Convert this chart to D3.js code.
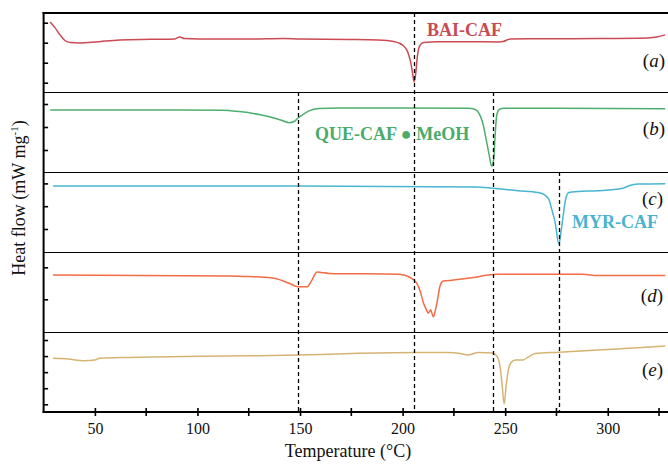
<!DOCTYPE html>
<html>
<head>
<meta charset="utf-8">
<script src="https://cdn.jsdelivr.net/npm/d3@7"></script>
<style>
  body { margin: 0; background: #fff; }
  svg { display: block; font-family: "Liberation Serif", "Times New Roman", serif; }
</style>
</head>
<body>
<div id="chart"></div>
<script>
const width = 668;
const height = 467;

// temperatures (°C) and heat flow readings for each trace
const tempA = [28.2, 30.6, 33, 35.4, 38, 42.7, 50, 62, 77, 89, 91.3, 93.7, 101, 125, 142, 150, 174, 188, 195.6, 198, 200.5, 202, 203, 204, 205, 205.6, 206.3, 207.3, 208.3, 210.2, 217.5, 232, 246.6, 249, 252.4, 261, 276, 295, 315, 324, 328];
const flowA = [3.03, 2.74, 2.39, 2.11, 2.01, 1.99, 2.03, 2.14, 2.17, 2.19, 2.29, 2.21, 2.19, 2.18, 2.21, 2.18, 2.16, 2.13, 2.06, 1.99, 1.84, 1.64, 1.39, 0.99, 0.39, 0.04, 0.39, 1.39, 1.84, 2.01, 2.05, 2.05, 2.04, 2.06, 2.19, 2.2, 2.2, 2.21, 2.22, 2.29, 2.39];

const tempB = [28.2, 76.7, 112.1, 120.4, 130.1, 139.8, 144.7, 147.1, 149, 151.9, 154.4, 159.2, 168.9, 198, 232, 235.4, 237.4, 239.3, 240.8, 242.2, 243.4, 244.4, 245.1, 245.9, 247.1, 249.5, 275.7, 328];
const flowB = [1.74, 1.74, 1.73, 1.67, 1.54, 1.33, 1.19, 1.24, 1.39, 1.57, 1.7, 1.8, 1.83, 1.83, 1.81, 1.76, 1.57, 1.09, 0.43, -0.22, -0.7, -0.43, 0.65, 1.52, 1.76, 1.81, 1.81, 1.79];

const tempC = [29.6, 149.5, 235.4, 243.7, 256.3, 266, 269.4, 271.4, 272.8, 274.3, 276.2, 277.2, 278.2, 279.6, 281.1, 285.4, 295.1, 307.3, 310.7, 314.6, 328];
const flowC = [1.89, 1.89, 1.84, 1.79, 1.68, 1.6, 1.49, 1.27, 0.83, 0.31, -0.66, -0.13, 0.54, 1.36, 1.6, 1.64, 1.68, 1.79, 1.91, 1.97, 1.99];

const tempD = [29.6, 115.5, 125.2, 137.4, 144.7, 149, 153.4, 155.8, 158.3, 160.2, 164.1, 198.1, 203.4, 206.8, 208.7, 210.2, 211.2, 212.6, 213.6, 215, 216, 217, 218.4, 219.9, 224.8, 234.5, 241.7, 246.6, 287.9, 295.1, 328];
const flowD = [0.76, 0.73, 0.71, 0.66, 0.5, 0.39, 0.39, 0.6, 0.85, 0.84, 0.81, 0.78, 0.69, 0.51, 0.23, -0.12, -0.27, -0.43, -0.33, -0.55, -0.33, -0.02, 0.45, 0.57, 0.6, 0.68, 0.76, 0.78, 0.78, 0.74, 0.74];

const tempE = [29.6, 35.4, 45.1, 50, 52.4, 67, 86.4, 125.2, 149.5, 178.6, 207.8, 222.3, 227.2, 232, 236.9, 243.7, 246.1, 247.6, 248.5, 249.5, 250.5, 251.5, 252.9, 254.9, 258.7, 261.2, 264.6, 276.2, 295.1, 314.6, 328];
const flowE = [2.86, 2.84, 2.71, 2.76, 2.87, 2.92, 2.96, 3.02, 3.07, 3.17, 3.22, 3.22, 3.18, 3.07, 3.22, 3.19, 2.97, 2.26, 1.2, 0.02, 1.2, 2.13, 2.6, 2.76, 2.76, 2.94, 3.16, 3.24, 3.38, 3.52, 3.63];

const panelLetters = ['a', 'b', 'c', 'd', 'e'];
const sampleNames = ['BAI-CAF', 'QUE-CAF \u25CF MeOH', 'MYR-CAF'];
const peakTemps = [149, 205.6, 244.2, 276.2]; // dashed reference lines
const xTicks = [50, 100, 150, 200, 250, 300];
const xMinorTicks = [75, 125, 175, 225, 275, 325];

const svg = d3.select('#chart')
    .append('svg')
    .attr('width', width)
    .attr('height', height);

const plotLeft = 43.6, plotRight = 669.3;
const plotTop = 13, plotBottom = 412;
const x = d3.scaleLinear().domain([25, 330]).range([plotLeft, plotRight]);

// five stacked panels, each with its own heat flow scale
const panels = [
    { t: tempA, f: flowA, y0: 13, y1: 92, dom: [-0.465, 3.485], ticks: [0, 1, 2, 3], color: '#cb4a53', lx: 665, ly: 67 },
    { t: tempB, f: flowB, y0: 92, y1: 172, dom: [-0.957, 2.522], ticks: [0, 1, 2], color: '#4daf6d', lx: 665, ly: 135 },
    { t: tempC, f: flowC, y0: 172, y1: 252, dom: [-1.009, 2.5], ticks: [0, 1, 2], color: '#4ab5d2', lx: 663, ly: 205 },
    { t: tempD, f: flowD, y0: 252, y1: 332, dom: [-1.022, 1.478], ticks: [0, 1], color: '#f36c45', lx: 663, ly: 302 },
    { t: tempE, f: flowE, y0: 332, y1: 412, dom: [-0.479, 4.499], ticks: [0, 1, 2, 3, 4], color: '#d5b473', lx: 663, ly: 376 }
];

panels.forEach((p, i) => {
    const y = d3.scaleLinear().domain(p.dom).range([p.y1, p.y0]);

    // left ticks pointing inward
    svg.append('g')
        .attr('transform', `translate(${plotLeft},0)`)
        .call(d3.axisRight(y).tickValues(p.ticks).tickSize(4.5).tickFormat(''))
        .call(g => g.select('.domain').remove())
        .call(g => g.selectAll('line').attr('stroke', '#000').attr('stroke-width', 1.6));

    const line = d3.line()
        .x(d => x(d[0]))
        .y(d => y(d[1]))
        .curve(d3.curveMonotoneX);

    svg.append('path')
        .datum(d3.zip(p.t, p.f))
        .attr('d', line)
        .attr('fill', 'none')
        .attr('stroke', p.color)
        .attr('stroke-width', 1.5);

    // panel separator
    if (i > 0) {
        svg.append('line')
            .attr('x1', plotLeft).attr('x2', plotRight)
            .attr('y1', p.y0 + 0.5).attr('y2', p.y0 + 0.5)
            .attr('stroke', '#000')
            .attr('stroke-width', 1.3)
            .attr('shape-rendering', 'crispEdges');
    }

    const lbl = svg.append('text')
        .attr('x', p.lx)
        .attr('y', p.ly)
        .attr('text-anchor', 'end')
        .attr('font-size', 19)
        .attr('fill', '#111');
    lbl.append('tspan').text('(');
    lbl.append('tspan').attr('font-style', 'italic').text(panelLetters[i]);
    lbl.append('tspan').text(')');
});

// dashed lines through the peaks
const dashTop = [92, 13, 92, 172];
peakTemps.forEach((t, i) => {
    svg.append('line')
        .attr('x1', Math.round(x(t)) + 0.5).attr('x2', Math.round(x(t)) + 0.5)
        .attr('y1', dashTop[i]).attr('y2', plotBottom)
        .attr('stroke', '#000')
        .attr('stroke-width', 1.3)
        .attr('stroke-dasharray', '4,3');
});

// frame: thick top, left and bottom
svg.append('line')
    .attr('x1', plotLeft - 1).attr('x2', plotRight)
    .attr('y1', plotTop).attr('y2', plotTop)
    .attr('stroke', '#000').attr('stroke-width', 2);
svg.append('line')
    .attr('x1', plotLeft).attr('x2', plotLeft)
    .attr('y1', plotTop - 1).attr('y2', plotBottom + 1)
    .attr('stroke', '#000').attr('stroke-width', 2);

const xAxis = svg.append('g')
    .attr('transform', `translate(0,${plotBottom})`)
    .call(d3.axisBottom(x).tickValues(xTicks).tickSize(4).tickPadding(7).tickFormat(d3.format('d')));
xAxis.select('.domain').remove();
xAxis.selectAll('.tick line').attr('y1', -4).attr('stroke-width', 1.6);
xAxis.selectAll('text')
    .attr('font-size', 16)
    .attr('fill', '#111')
    .attr('font-family', '"Liberation Serif", serif');

svg.append('g')
    .attr('transform', `translate(0,${plotBottom})`)
    .selectAll('line')
    .data(xMinorTicks)
    .join('line')
    .attr('x1', d => x(d)).attr('x2', d => x(d))
    .attr('y1', -4).attr('y2', 4)
    .attr('stroke', '#000')
    .attr('stroke-width', 1.6);

svg.append('line')
    .attr('x1', plotLeft - 1).attr('x2', plotRight)
    .attr('y1', plotBottom).attr('y2', plotBottom)
    .attr('stroke', '#000').attr('stroke-width', 2);

// sample names
const names = [
    { x: 427, y: 36, color: '#c94a52' },
    { x: 315, y: 140, color: '#4aab6a' },
    { x: 572, y: 228, color: '#4ab3d0' }
];
names.forEach((n, i) => {
    svg.append('text')
        .attr('x', n.x)
        .attr('y', n.y)
        .attr('font-size', 18)
        .attr('font-weight', 'bold')
        .attr('fill', n.color)
        .text(sampleNames[i]);
});

// axis titles
svg.append('text')
    .attr('x', 348)
    .attr('y', 457)
    .attr('text-anchor', 'middle')
    .attr('font-size', 18)
    .attr('fill', '#111')
    .text('Temperature (\u00b0C)');

const yTitle = svg.append('text')
    .attr('transform', 'translate(25,198) rotate(-90)')
    .attr('text-anchor', 'middle')
    .attr('font-size', 18)
    .attr('fill', '#111');
yTitle.append('tspan').text('Heat flow (mW mg');
yTitle.append('tspan').attr('font-size', 11).attr('dy', -7).text('-1');
yTitle.append('tspan').attr('dy', 7).text(')');
</script>
</body>
</html>
